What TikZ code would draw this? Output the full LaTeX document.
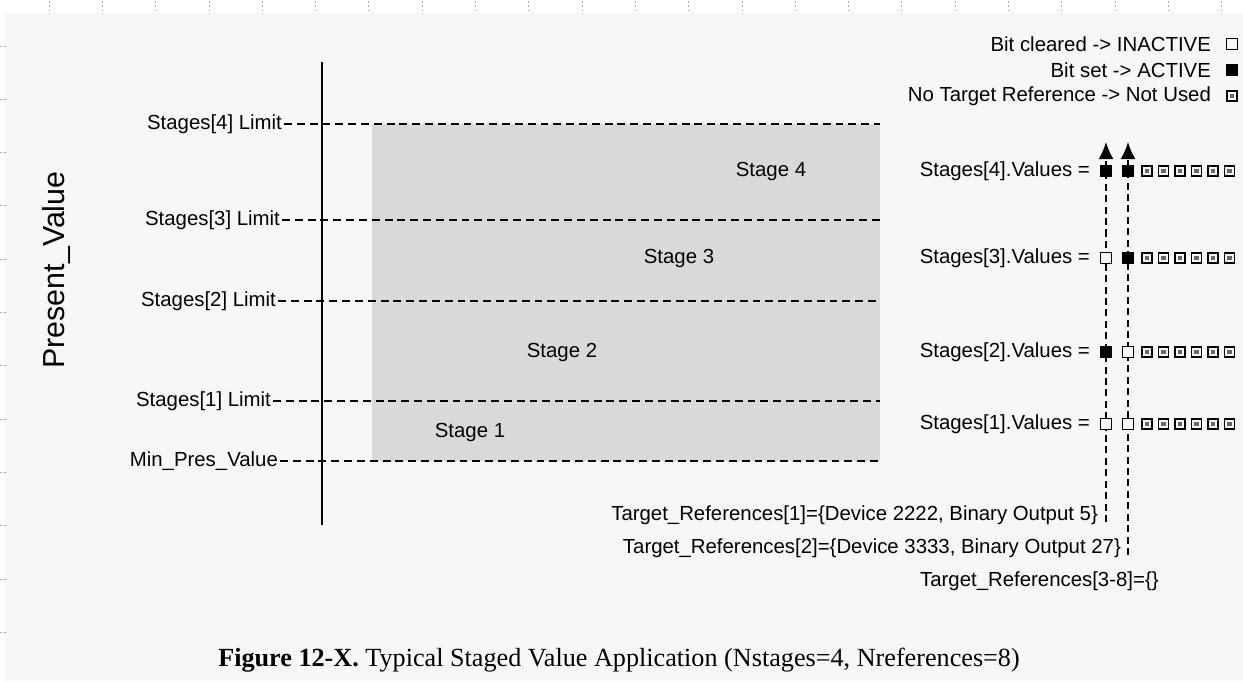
\documentclass[tikz,border=0pt]{standalone}
\usepackage{fontspec}
\setmainfont{Liberation Serif}
\setsansfont{Liberation Sans}
\usetikzlibrary{arrows.meta}

\definecolor{paper}{HTML}{F7F7F7}
\definecolor{band}{HTML}{D9D9D9}
\definecolor{ruler}{HTML}{B0B0B0}

\tikzset{
  lbl/.style={font=\sffamily\fontsize{11.6}{13}\selectfont, inner sep=1pt},
  limitline/.style={line width=1.1pt, dash pattern=on 4.5pt off 2.8pt},
  refline/.style={line width=1.1pt, dash pattern=on 4pt off 2.5pt},
  bitoff/.style={draw, line width=0.9pt, fill=paper, minimum size=6.4pt, inner sep=0pt},
  biton/.style={bitoff, fill=black},
  bitnone/.style={bitoff, minimum size=5.8pt, path picture={
      \fill[black!60] ([shift={(-1.3pt,-1.3pt)}]path picture bounding box.center)
        rectangle ([shift={(1.3pt,1.3pt)}]path picture bounding box.center);}}
}

\begin{document}
\begin{tikzpicture}[x=0.02cm,y=-0.02cm]
  \useasboundingbox (0,0) rectangle (1243,681);
  \fill[paper] (5,13) rectangle (1243,681);

  % ruler marks of the page
  \foreach \i in {0,...,22}
    \draw[ruler, line width=0.4pt, dash pattern=on 1pt off 1.5pt] (49+53.3*\i,1) -- (49+53.3*\i,11);
  \foreach \i in {0,...,11}
    \draw[ruler, line width=0.5pt, dash pattern=on 1pt off 1.5pt] (0,46+53.3*\i) -- (8,46+53.3*\i);

  % stage bands
  \fill[band] (372,124) rectangle (880,461);
  \node[lbl] (st4) at (771,171) {Stage 4};
  \node[lbl] (st3) at (679,258) {Stage 3};
  \node[lbl] (st2) at (562,352) {Stage 2};
  \node[lbl] (st1) at (470,432) {Stage 1};

  % limits
  \node[lbl, anchor=east] (lim4) at (284,124) {Stages[4] Limit};
  \node[lbl, anchor=east] (lim3) at (282,220) {Stages[3] Limit};
  \node[lbl, anchor=east] (lim2) at (278,301) {Stages[2] Limit};
  \node[lbl, anchor=east] (lim1) at (273,401) {Stages[1] Limit};
  \node[lbl, anchor=east] (lim0) at (280,461) {Min\_Pres\_Value};
  \path
  (880,124) coordinate (e4)
  (880,220) coordinate (e3)
  (880,301) coordinate (e2)
  (880,401) coordinate (e1)
  (880,461) coordinate (e0);
  \foreach \k in {0,...,4}
    \draw[limitline] (lim\k.east) -- (e\k);

  % Present_Value axis
  \path (322,62) coordinate (ytop) (322,525) coordinate (ybot);
  \draw[line width=1.1pt] (ytop) -- (ybot);
  \node[font=\sffamily\fontsize{17.3}{19}\selectfont, rotate=90] (pv) at (57,270) {Present\_Value};

  % legend
  \node[lbl, anchor=east] (lgclr) at (1213,44) {Bit cleared -> INACTIVE};
  \node[lbl, anchor=east] (lgset) at (1213,70) {Bit set -> ACTIVE};
  \node[lbl, anchor=east] (lgnone) at (1213,96) {No Target Reference -> Not Used};
  \node[bitoff] (symclr) at (1232,44) {};
  \node[biton] (symset) at (1232,70) {};
  \node[bitnone] (symnone) at (1232,96) {};

  % target references
  \node[lbl, anchor=east] (ref1) at (1100,515) {Target\_References[1]=\{Device 2222, Binary Output 5\}};
  \node[lbl, anchor=east] (ref2) at (1123,548) {Target\_References[2]=\{Device 3333, Binary Output 27\}};
  \node[lbl, anchor=west] (ref3) at (918,581) {Target\_References[3-8]=\{\}};
  \path
  (1106,522) coordinate (foot1)
  (1128,555) coordinate (foot2)
  (1106,142) coordinate (tip1)
  (1128,142) coordinate (tip2);
  \draw[refline, -{Latex[length=3.4mm,width=3mm]}] (foot1) -- (tip1);
  \draw[refline, -{Latex[length=3.4mm,width=3mm]}] (foot2) -- (tip2);

  % stage values
  \node[lbl, anchor=east] (val4) at (1092,171) {Stages[4].Values =};
  \node[lbl, anchor=east] (val3) at (1092,258) {Stages[3].Values =};
  \node[lbl, anchor=east] (val2) at (1092,352) {Stages[2].Values =};
  \node[lbl, anchor=east] (val1) at (1092,424) {Stages[1].Values =};

  \node[biton] (v4a) at (1106,171) {};
  \node[biton] (v4b) at (1128,171) {};
  \node[bitoff] (v3a) at (1106,258) {};
  \node[biton] (v3b) at (1128,258) {};
  \node[biton] (v2a) at (1106,352) {};
  \node[bitoff] (v2b) at (1128,352) {};
  \node[bitoff] (v1a) at (1106,424) {};
  \node[bitoff] (v1b) at (1128,424) {};
  \foreach \r/\y in {4/171,3/258,2/352,1/424}
    \foreach \c in {3,...,8}
      \node[bitnone] (v\r n\c) at (1147+16.5*\c-49.5,\y) {};

  % caption
  \node[font=\fontsize{14.9}{17}\selectfont] (cap) at (619,660)
    {\textbf{Figure 12-X.} Typical Staged Value Application (Nstages=4, Nreferences=8)};
\end{tikzpicture}
\end{document}
